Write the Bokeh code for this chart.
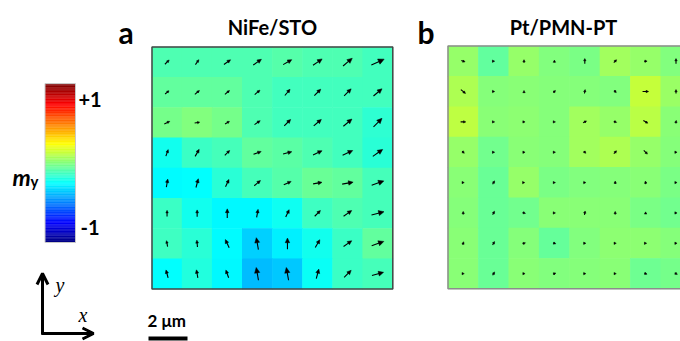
import numpy as np
from bokeh.plotting import figure
from bokeh.models import LinearColorMapper, ColumnDataSource, Range1d, Arrow, OpenHead
from bokeh.core.properties import value
from bokeh.embed import file_html
from bokeh.resources import INLINE

# ---------------- data ----------------
# m_y values for each cell, rows listed top -> bottom, columns left -> right
my_a = [
    [-0.12, -0.12, -0.12, -0.12, -0.10, -0.12, -0.12, -0.15],
    [-0.07, -0.07, -0.07, -0.12, -0.15, -0.15, -0.15, -0.15],
    [-0.02,  0.00, -0.02, -0.12, -0.15, -0.15, -0.15, -0.20],
    [-0.26, -0.17, -0.14, -0.07, -0.09, -0.12, -0.15, -0.21],
    [-0.31, -0.30, -0.21, -0.14, -0.10, -0.05, -0.07, -0.14],
    [-0.17, -0.26, -0.32, -0.32, -0.27, -0.16, -0.12, -0.14],
    [-0.16, -0.21, -0.31, -0.42, -0.34, -0.26, -0.17, -0.07],
    [-0.30, -0.23, -0.32, -0.47, -0.44, -0.28, -0.17, -0.14],
]
# in-plane magnetisation direction (degrees, counter-clockwise from +x)
ang_a = [
    [45, 55, 35, 35, 30, 35, 40, 25],
    [40, 40, 40, 40, 50, 45, 45, 40],
    [25, 10, 30, 35, 45, 40, 40, 45],
    [70, 60, 45, 20, 15, 25, 25, 35],
    [80, 75, 65, 40, 25, 10, 10, 20],
    [90, 90, 90, 80, 65, 45, 35, 15],
    [100, 95, 115, 100, 90, 60, 35, 20],
    [105, 100, 110, 100, 100, 75, 45, 15],
]
# arrow length as a fraction of one cell
len_a = [
    [0.20, 0.20, 0.27, 0.33, 0.33, 0.37, 0.40, 0.47],
    [0.17, 0.20, 0.20, 0.23, 0.27, 0.30, 0.33, 0.37],
    [0.20, 0.17, 0.17, 0.23, 0.30, 0.33, 0.37, 0.40],
    [0.23, 0.27, 0.23, 0.27, 0.30, 0.33, 0.37, 0.40],
    [0.27, 0.30, 0.27, 0.27, 0.27, 0.30, 0.37, 0.43],
    [0.20, 0.23, 0.30, 0.27, 0.27, 0.27, 0.33, 0.43],
    [0.20, 0.23, 0.30, 0.40, 0.37, 0.30, 0.33, 0.43],
    [0.27, 0.27, 0.27, 0.43, 0.43, 0.33, 0.33, 0.40],
]

my_b = [
    [0.05, -0.07, 0.05, 0.00, -0.01, 0.08, 0.05, 0.00],
    [0.11, 0.01, 0.02, 0.01, 0.01, 0.00, 0.17, 0.06],
    [0.15, 0.02, 0.03, 0.01, 0.08, 0.05, 0.14, 0.02],
    [0.05, -0.03, 0.02, 0.01, 0.08, 0.11, 0.05, 0.01],
    [0.02, -0.05, 0.05, -0.01, 0.00, 0.01, 0.02, -0.01],
    [0.01, -0.05, -0.03, 0.02, 0.02, 0.02, -0.01, -0.03],
    [0.02, -0.05, 0.01, -0.06, 0.00, 0.03, 0.03, 0.01],
    [0.02, -0.05, 0.02, 0.00, 0.01, 0.02, -0.04, -0.02],
]
ang_b = [
    [-20, 0, 90, 90, 90, 45, 0, 90],
    [-40, 0, 90, 45, 80, -45, 0, 90],
    [0, 0, 0, 0, 30, -20, -30, 80],
    [-45, 0, 0, 0, -45, 45, -45, 0],
    [0, 60, 0, 0, 0, 90, 100, 0],
    [90, 60, -20, 0, 80, 90, 90, 0],
    [70, 60, 20, -20, 0, 0, 0, 0],
    [0, 60, 0, 20, 0, 0, -20, -30],
]
len_b = [
    [0.13, 0.07, 0.10, 0.07, 0.17, 0.13, 0.10, 0.17],
    [0.20, 0.07, 0.07, 0.10, 0.13, 0.10, 0.20, 0.13],
    [0.17, 0.07, 0.07, 0.07, 0.13, 0.10, 0.17, 0.10],
    [0.10, 0.07, 0.07, 0.07, 0.10, 0.13, 0.17, 0.07],
    [0.07, 0.13, 0.05, 0.07, 0.07, 0.10, 0.10, 0.07],
    [0.10, 0.13, 0.10, 0.07, 0.13, 0.10, 0.07, 0.07],
    [0.10, 0.13, 0.10, 0.10, 0.07, 0.07, 0.07, 0.07],
    [0.07, 0.13, 0.07, 0.10, 0.07, 0.07, 0.10, 0.10],
]

panel_letters = ["a", "b"]
panel_titles = ["NiFe/STO", "Pt/PMN-PT"]
cbar_low, cbar_high = -1.23, 1.23
cbar_ticks = [1, -1]
cbar_tick_labels = ["+1", "-1"]
scale_label = "2 \u03bcm"

# ---------------- styling / layout ----------------
W, H = 680, 341
FONT = "Lato"


def jet(n=256):
    f = np.linspace(0, 1, n)
    r = np.clip(1.5 - np.abs(4 * f - 3), 0, 1)
    g = np.clip(1.5 - np.abs(4 * f - 2), 0, 1)
    b = np.clip(1.5 - np.abs(4 * f - 1), 0, 1)
    return ["#%02x%02x%02x" % (int(round(a * 255)), int(round(bb * 255)), int(round(c * 255)))
            for a, bb, c in zip(r, g, b)]


palette = jet()
mapper = LinearColorMapper(palette=palette, low=cbar_low, high=cbar_high)

p = figure(width=W, height=H, output_backend="svg", toolbar_location=None,
           x_range=Range1d(0, W), y_range=Range1d(0, H),
           x_axis_type=None, y_axis_type=None, min_border=0)
p.outline_line_color = None
p.grid.visible = False
p.background_fill_color = "white"


def Y(y):
    return H - np.asarray(y, dtype=float)


def draw_panel(vals, angs, lens, left, top, cw, ch, border_color, border_w):
    vals = np.asarray(vals, float)
    angs = np.radians(np.asarray(angs, float))
    lens = np.asarray(lens, float)
    nr, nc = vals.shape
    rr, cc = np.meshgrid(np.arange(nr), np.arange(nc), indexing="ij")
    xc = left + (cc.ravel() + 0.5) * cw
    yc = Y(top + (rr.ravel() + 0.5) * ch)
    src = ColumnDataSource(dict(x=xc, y=yc, v=vals.ravel()))
    p.rect("x", "y", width=cw + 0.6, height=ch + 0.6, source=src,
           fill_color={"field": "v", "transform": mapper}, line_color=None)
    # arrows
    L = lens.ravel() * cw
    a = angs.ravel()
    dx, dy = np.cos(a), np.sin(a)
    tipx, tipy = xc + dx * L / 2, yc + dy * L / 2
    tailx, taily = xc - dx * L / 2, yc - dy * L / 2
    hl = np.maximum(2.2, 0.42 * L)
    hw = np.maximum(1.2, 0.2 * L)
    bx, by = tipx - dx * hl, tipy - dy * hl
    p.segment(x0=tailx, y0=taily, x1=bx + dx * 0.5, y1=by + dy * 0.5, line_color="black", line_width=1.1)
    xs = [[tx, b1 - ny * w, b1 + ny * w] for tx, b1, ny, w in zip(tipx, bx, dy, hw)]
    ys = [[ty, b2 + nx * w, b2 - nx * w] for ty, b2, nx, w in zip(tipy, by, dx, hw)]
    p.patches(xs, ys, fill_color="black", line_color="black", line_width=0.5)
    # frame
    p.rect(x=[left + nc * cw / 2], y=Y([top + nr * ch / 2]), width=nc * cw, height=nr * ch,
           fill_color=None, line_color=border_color, line_width=border_w)


A_LEFT, A_TOP, A_CW, A_CH = 151.5, 46.5, 30.1, 30.25
B_LEFT, B_TOP, B_CW, B_CH = 447.5, 45.5, 30.4, 30.35
draw_panel(my_a, ang_a, len_a, A_LEFT, A_TOP, A_CW, A_CH, "#444444", 1.5)
draw_panel(my_b, ang_b, len_b, B_LEFT, B_TOP, B_CW, B_CH, "#8c8c8c", 1.5)

# titles and panel letters
p.text(x=[118, 417], y=Y([31, 31]), text=panel_letters, text_font=value(FONT),
       text_font_style="bold", text_font_size="30px", text_baseline="alphabetic", text_align="left")
p.text(x=[A_LEFT + 4 * A_CW, 563], y=Y([26, 26]), text=panel_titles, text_font=value(FONT),
       text_font_style="bold", text_font_size="20px", text_baseline="alphabetic", text_align="center")

# colorbar
CB_L, CB_R, CB_T, CB_B = 44.5, 75.0, 84.0, 242.0
n = len(palette)
edges = np.linspace(cbar_low, cbar_high, n + 1)
mids = (edges[:-1] + edges[1:]) / 2


def cb_y(v):
    return CB_B - (np.asarray(v, float) - cbar_low) / (cbar_high - cbar_low) * (CB_B - CB_T)


cb_src = ColumnDataSource(dict(v=mids, b=Y(cb_y(edges[:-1])), t=Y(cb_y(edges[1:])) + 0.3))
p.quad(left=CB_L, right=CB_R, bottom="b", top="t",
       fill_color={"field": "v", "transform": mapper}, line_color=None, source=cb_src)
p.rect(x=[(CB_L + CB_R) / 2], y=Y([(CB_T - 1 + CB_B) / 2]), width=CB_R - CB_L, height=CB_B - CB_T + 1,
       fill_color=None, line_color="#c8c8c8", line_width=1)
p.text(x=[78, 80], y=Y(cb_y(cbar_ticks)), text=cbar_tick_labels, text_font=value(FONT),
       text_font_style="bold", text_font_size="20px", text_baseline="middle", text_align="left")
p.text(x=[12], y=Y([176]), text=["m"], text_font=value(FONT), text_font_style="bold italic",
       text_font_size="23px", text_baseline="alphabetic")
p.text(x=[30], y=Y([180]), text=["y"], text_font=value(FONT), text_font_style="bold",
       text_font_size="15px", text_baseline="alphabetic")

# coordinate axes arrows
p.add_layout(Arrow(end=OpenHead(size=11, line_width=3, line_color="black"),
                   x_start=42, y_start=float(Y(334)), x_end=42, y_end=float(Y(273)),
                   line_width=3, line_color="black"))
p.add_layout(Arrow(end=OpenHead(size=11, line_width=3, line_color="black"),
                   x_start=41, y_start=float(Y(333)), x_end=93, y_end=float(Y(333)),
                   line_width=3, line_color="black"))
p.text(x=[55, 78], y=Y([284, 314]), text=["y", "x"], text_font=value("Liberation Serif"),
       text_font_style="italic", text_font_size="20px", text_baseline="alphabetic")

# scale bar
p.text(x=[147], y=Y([320]), text=[scale_label], text_font=value(FONT), text_font_style="bold",
       text_font_size="17px", text_baseline="alphabetic")
p.quad(left=[148], right=[187], bottom=Y([340]), top=Y([336]), fill_color="black", line_color=None)

open("out.html", "w").write(file_html(p, INLINE))
